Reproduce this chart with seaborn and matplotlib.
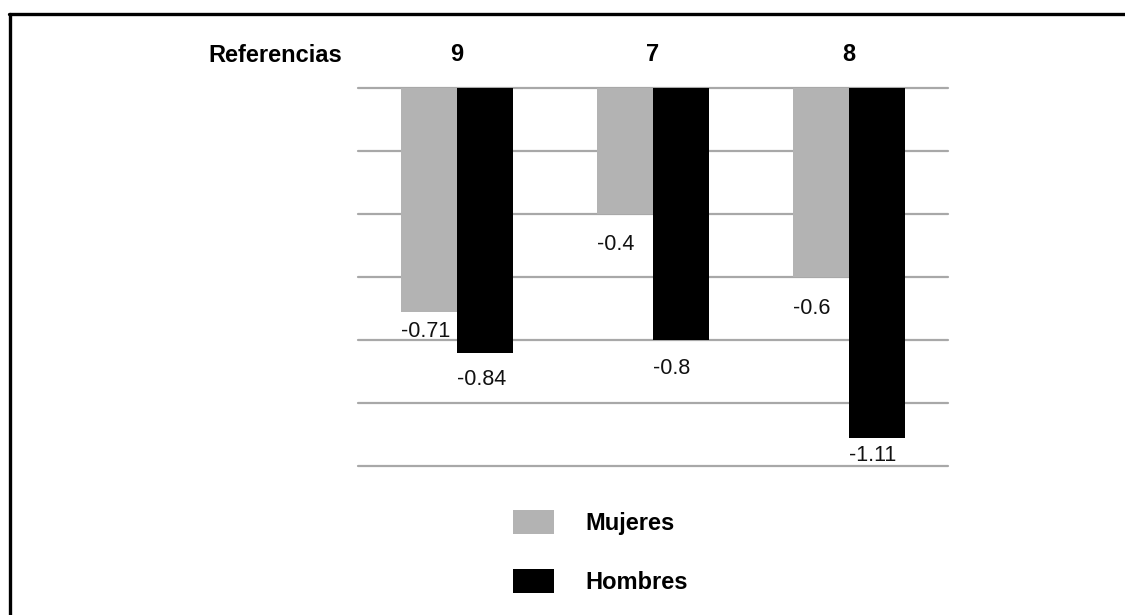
import matplotlib
matplotlib.use("Agg")
import matplotlib.pyplot as plt
from matplotlib.lines import Line2D
import seaborn as sns
import pandas as pd

# Data
referencias = ["9", "7", "8"]
mujeres = [-0.71, -0.4, -0.6]
hombres = [-0.84, -0.8, -1.11]
series_names = ["Mujeres", "Hombres"]
title_label = "Referencias"

df = pd.DataFrame({
    "ref": referencias * 2,
    "valor": mujeres + hombres,
    "sexo": [series_names[0]] * 3 + [series_names[1]] * 3,
})

sns.set_theme(style="white")
plt.rcParams["font.family"] = ["Liberation Sans", "DejaVu Sans"]
plt.rcParams["text.color"] = "black"
plt.rcParams["xtick.color"] = "black"

W, H = 1125, 615
fig = plt.figure(figsize=(W / 100, H / 100), dpi=100)
ax = fig.add_axes([358 / W, 1 - 466 / H, (948 - 358) / W, (466 - 88) / H])

colors = {"Mujeres": "#b3b3b3", "Hombres": "#000000"}
sns.barplot(data=df, x="ref", y="valor", hue="sexo", order=referencias,
            hue_order=series_names, palette=colors, width=0.5714,
            linewidth=0, saturation=1, ax=ax, legend=False, zorder=3)

ax.set_xlim(-0.505, 2.505)
ax.set_ylim(-1.2, 0)
ax.set_yticks([0, -0.2, -0.4, -0.6, -0.8, -1.0, -1.2])
ax.set_yticklabels([])
ax.tick_params(axis="y", length=0)
ax.yaxis.grid(True, color="#a8a8a8", linewidth=1.6, zorder=0)
ax.set_axisbelow(True)
for gl in ax.get_ygridlines():
    gl.set_clip_on(False)
for s in ax.spines.values():
    s.set_visible(False)
ax.set_xlabel("")
ax.set_ylabel("")

# Category labels along the top
ax.xaxis.tick_top()
ax.tick_params(axis="x", length=0, pad=16, labelsize=17, labelcolor="black")
for t in ax.get_xticklabels():
    t.set_fontweight("bold")

fig.text(275 / W, 1 - 55 / H, title_label, ha="center", va="center",
         fontsize=17, fontweight="bold", color="black")

# Value labels beneath each bar end, left-aligned with the bar
label_offsets = {"Mujeres": [20, 31, 32], "Hombres": [27, 28, 18]}
values = {"Mujeres": mujeres, "Hombres": hombres}
for cont, name in zip(ax.containers, series_names):
    for bar, val, off in zip(cont, values[name], label_offsets[name]):
        ax.annotate(f"{val:g}", xy=(bar.get_x(), val), xytext=(0, -off),
                    textcoords="offset pixels", ha="left", va="center",
                    fontsize=15.5, color="#111111", zorder=4,
                    annotation_clip=False)

# Legend below the plot
handles = [plt.Rectangle((0, 0), 1, 1, facecolor=colors[n], edgecolor="none")
           for n in series_names]
leg = fig.legend(handles, series_names, loc="upper left",
                 bbox_to_anchor=(513 / W, 1 - 510 / H), frameon=False,
                 prop={"weight": "bold", "size": 17}, handlelength=1.72,
                 handleheight=1.18, handletextpad=1.33, labelspacing=1.45,
                 borderpad=0, borderaxespad=0)
for t in leg.get_texts():
    t.set_color("black")

# Page frame (left and top edges)
fig.add_artist(Line2D([10 / W, 10 / W], [0, 1 - 13.5 / H], color="black",
                      linewidth=2.4, transform=fig.transFigure))
fig.add_artist(Line2D([8.8 / W, 1], [1 - 13.5 / H, 1 - 13.5 / H], color="black",
                      linewidth=2.4, transform=fig.transFigure))

fig.savefig("out.png", dpi=100)
